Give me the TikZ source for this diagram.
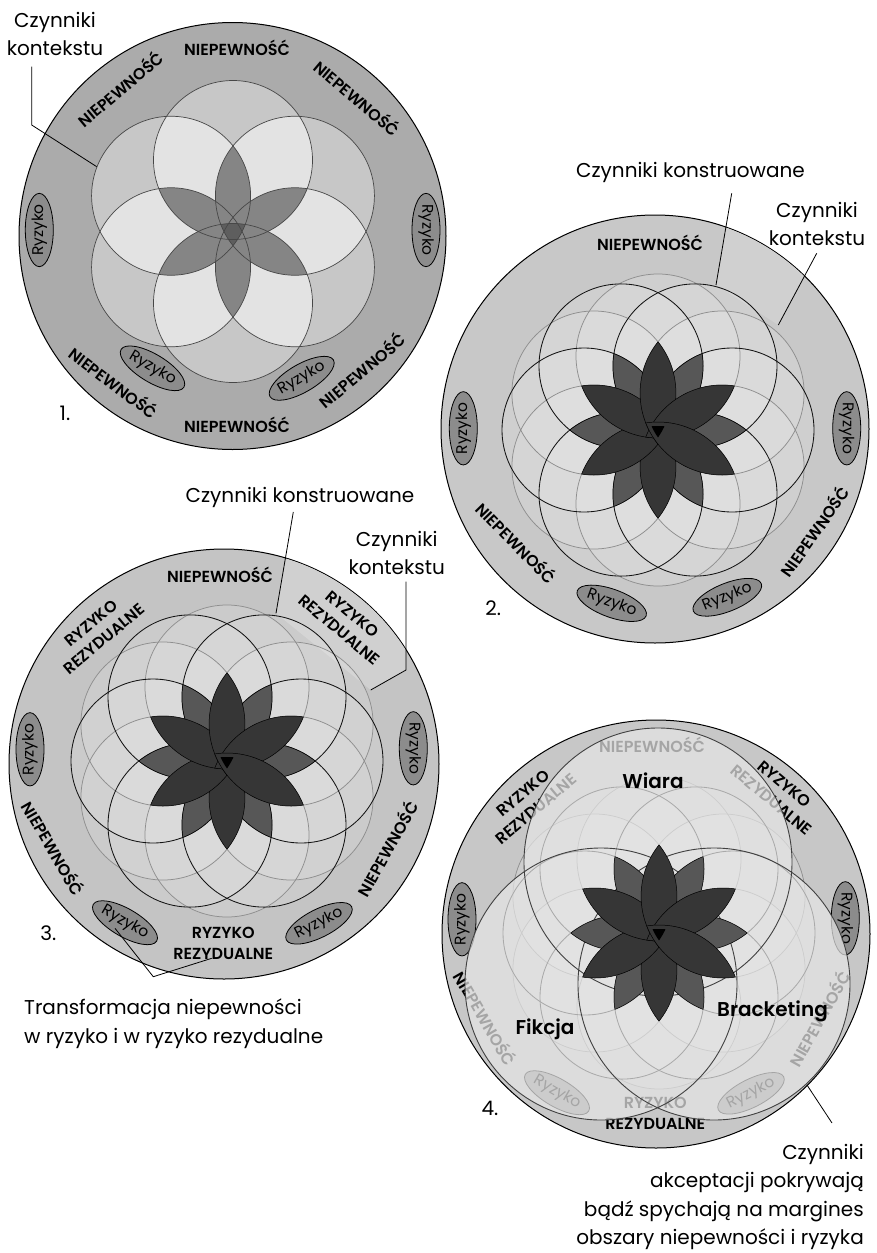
\documentclass[tikz,border=0pt]{standalone}
\usepackage{fontspec}
\setmainfont{Poppins}
\newfontfamily\semib{Poppins SemiBold}
\usetikzlibrary{calc,shapes.geometric}
\definecolor{ringA}{gray}{0.67}
\definecolor{oneA}{gray}{0.78}
\definecolor{twoA}{gray}{0.89}
\definecolor{petA}{gray}{0.52}
\definecolor{cenA}{gray}{0.37}
\definecolor{lineA}{gray}{0.28}
\definecolor{ringB}{gray}{0.785}
\definecolor{bandB}{gray}{0.815}
\definecolor{ringC}{gray}{0.77}
\definecolor{bandC}{gray}{0.815}
\definecolor{ringD}{gray}{0.78}
\definecolor{ellB}{gray}{0.55}
\definecolor{petM}{gray}{0.34}
\definecolor{petD}{gray}{0.21}
\definecolor{gLine}{gray}{0.56}
\definecolor{bLine}{gray}{0.08}
\definecolor{ovlColor}{gray}{0.9}
\definecolor{bigLine}{gray}{0.25}

\newcommand\sixflower[2]{%
  \foreach \k in {0,...,5}{%
    \coordinate (#1b\k) at ($(#2)+({60*\k}:74)$);
    \coordinate (#1g\k) at ($(#2)+({30+60*\k}:74)$);
  }}
\newcommand\flowerbase[2]{%
  \foreach \k in {0,...,5}{%
    \fill[white,opacity=#2] (#1b\k) circle[radius=82pt];
    \fill[white,opacity=#2] (#1g\k) circle[radius=82pt];}
  \foreach \k in {0,...,5}{\draw[gline] (#1g\k) circle[radius=82pt];}
  \foreach \k in {0,...,5}{\draw[bline] (#1b\k) circle[radius=82pt];}}
\newcommand\lens[4]{%
  \begin{scope}\clip (#1) circle[radius=#4]; \fill[#3] (#2) circle[radius=#4];\end{scope}
  \begin{scope}\clip (#1) circle[radius=#4]; \draw[pline] (#2) circle[radius=#4];\end{scope}
  \begin{scope}\clip (#2) circle[radius=#4]; \draw[pline] (#1) circle[radius=#4];\end{scope}}
\newcommand\petals[1]{%
  \foreach \i/\j in {0/2,1/3,2/4,3/5,4/0,5/1}{\lens{#1b\i}{#1b\j}{petM}{82pt}}
  \foreach \i/\j in {0/2,1/3,2/4,3/5,4/0,5/1}{\lens{#1g\i}{#1g\j}{petD}{82pt}}
  \begin{scope}\clip (#1g1) circle[radius=78pt]; \clip (#1g3) circle[radius=78pt];
    \fill[black] (#1g5) circle[radius=78pt];\end{scope}}
\newcommand\ringlabels[1]{%
  \node[caps] (#1n1) at (220,575) {NIEPEWNOŚĆ};
  \node[caps, rotate=40] (#1rr1) at (97.5,631) {RYZYKO\\REZYDUALNE};
  \node[caps, rotate=-40] (#1rr2) at (346,622) {RYZYKO\\REZYDUALNE};
  \node[ryz, rotate=90] (#1r1) at (30,749.3) {Ryzyko};
  \node[ryz, rotate=-90] (#1r2) at (413.3,748.3) {Ryzyko};
  \node[caps, rotate=-60] (#1n2) at (54,848) {NIEPEWNOŚĆ};
  \node[caps, rotate=61] (#1n3) at (386.7,848.3) {NIEPEWNOŚĆ};
  \node[ryz, rotate=-30] (#1r3) at (125,922.7) {Ryzyko};
  \node[ryz, rotate=27] (#1r4) at (319,923.3) {Ryzyko};
  \node[caps] (#1rr3) at (223.3,943.3) {RYZYKO\\REZYDUALNE};}

\begin{document}
\begin{tikzpicture}[x=1pt,y=-1pt,
  lbl/.style={font=\fontsize{20}{28.3}\selectfont, align=center, inner sep=0pt},
  caps/.style={font=\semib\fontsize{16}{20.5}\selectfont, align=center, inner sep=0pt},
  bold/.style={font=\semib\fontsize{20}{24}\selectfont, inner sep=0pt},
  ryz/.style={ellipse, draw=black, line width=0.8pt, fill=ellB, inner sep=0pt,
    minimum height=28pt, font=\fontsize{15.5}{17}\selectfont},
  lead/.style={draw=black, line width=0.8pt},
  outer/.style={draw=black, line width=1pt},
  gline/.style={draw=gLine, line width=0.75pt},
  bline/.style={draw=bLine, line width=0.85pt},
  pline/.style={draw=black, line width=0.5pt},
  aline/.style={draw=lineA, line width=0.7pt},
  bigline/.style={draw=bigLine, line width=0.9pt}]
\useasboundingbox (0,0) rectangle (877,1253);
\fill[white] (0,0) rectangle (877,1253);

\coordinate (O1) at (232.5,236);
\coordinate (F1) at (233,231.5);
\coordinate (O2) at (655,429);
\coordinate (F2) at (658,430);
\coordinate (O3) at (224,764);
\coordinate (F3) at (227,761);
\coordinate (O4) at (656,934);
\coordinate (F4) at (659,933);

%%%%%%%%%%%%%%%% Diagram 1
\filldraw[fill=ringA, outer] (O1) circle[radius=213.5pt];
\foreach \k in {0,...,5}{\coordinate (a\k) at ($(F1)+({30+60*\k}:71.5)$);}
\foreach \k in {0,...,5}{\fill[oneA] (a\k) circle[radius=79.5pt];}
\foreach \i/\j in {0/1,1/2,2/3,3/4,4/5,5/0}{%
  \begin{scope}\clip (a\i) circle[radius=79.5pt]; \fill[twoA] (a\j) circle[radius=79.5pt];\end{scope}}
\foreach \i/\j in {0/2,1/3,2/4,3/5,4/0,5/1}{%
  \begin{scope}\clip (a\i) circle[radius=79.5pt]; \fill[petA] (a\j) circle[radius=79.5pt];\end{scope}}
\begin{scope}\clip (a1) circle[radius=79.5pt]; \clip (a3) circle[radius=79.5pt];
  \fill[cenA] (a5) circle[radius=79.5pt];\end{scope}
\foreach \k in {0,...,5}{\draw[aline] (a\k) circle[radius=79.5pt];}

\node[lbl] (t1) at (55,34) {Czynniki\\kontekstu};
\node[caps] (n1a) at (237,48) {NIEPEWNOŚĆ};
\node[caps, rotate=40] (n1b) at (120,88.5) {NIEPEWNOŚĆ};
\node[caps, rotate=-40] (n1c) at (357.5,97.5) {NIEPEWNOŚĆ};
\node[caps, rotate=-37] (n1d) at (114,382) {NIEPEWNOŚĆ};
\node[caps, rotate=40] (n1e) at (361.5,370) {NIEPEWNOŚĆ};
\node[caps] (n1f) at (237,425) {NIEPEWNOŚĆ};
\node[ryz, rotate=90] (r1a) at (39.3,230) {Ryzyko};
\node[ryz, rotate=-90] (r1b) at (426,230) {Ryzyko};
\node[ryz, rotate=-31] (r1c) at (152.5,368.3) {Ryzyko};
\node[ryz, rotate=30] (r1d) at (301.7,378.3) {Ryzyko};
\node[lbl] (num1) at (65,413) {1.};
\coordinate (l1a) at (31.7,66.7);
\coordinate (l1b) at (31.7,125);
\coordinate (l1c) at (96.7,166.7);
\draw[lead] (l1a) -- (l1b) -- (l1c);

%%%%%%%%%%%%%%%% Diagram 2
\filldraw[fill=ringB, outer] (O2) circle[radius=214pt];
\begin{scope}\clip (O2) circle[radius=213.5pt];
  \fill[bandB] (716,285) -- (733.5,183) -- (830,228.5) -- (778.3,325) -- cycle;\end{scope}
\sixflower{B}{F2}
\flowerbase{B}{0.13}
\petals{B}
\node[lbl] (k2) at (690.5,172) {Czynniki konstruowane};
\node[lbl] (c2) at (817,224) {Czynniki\\kontekstu};
\node[caps] (n2a) at (650,243.3) {NIEPEWNOŚĆ};
\node[ryz, rotate=90] (r2a) at (463.3,428.3) {Ryzyko};
\node[ryz, rotate=-90] (r2b) at (846.7,428.3) {Ryzyko};
\node[caps, rotate=-45.6] (n2b) at (516.7,542.5) {NIEPEWNOŚĆ};
\node[caps, rotate=55] (n2c) at (814,531) {NIEPEWNOŚĆ};
\node[ryz, rotate=-20] (r2c) at (611.7,603.3) {Ryzyko};
\node[ryz, rotate=22] (r2d) at (727.3,597.3) {Ryzyko};
\node[lbl] (num2) at (493.3,608) {2.};
\coordinate (l2a) at (731.7,193.3);
\coordinate (l2b) at (716,285);
\coordinate (l2c) at (816.7,253.3);
\coordinate (l2d) at (778.3,325);
\draw[lead] (l2a) -- (l2b);
\draw[lead] (l2c) -- (l2d);

%%%%%%%%%%%%%%%% Diagram 3
\filldraw[fill=ringC, outer] (O3) circle[radius=215pt];
\begin{scope}\clip (O3) circle[radius=214.5pt];
  \fill[bandC] (276,613.3) -- (293.3,512) -- (406,555) -- (406,670) -- (370.7,690) -- cycle;\end{scope}
\ringlabels{C}
\sixflower{C}{F3}
\flowerbase{C}{0.12}
\petals{C}
\node[lbl] (k3) at (300,497) {Czynniki konstruowane};
\node[lbl] (c3) at (396.7,553) {Czynniki\\kontekstu};
\node[lbl] (num3) at (48.3,933.3) {3.};
\node[lbl, align=left, anchor=north west] (tr) at (24,999) {Transformacja niepewności\\w ryzyko i w ryzyko rezydualne};
\coordinate (l3a) at (293.3,512);
\coordinate (l3b) at (276,613.3);
\coordinate (l3c) at (406,581.7);
\coordinate (l3d) at (406,670);
\coordinate (l3e) at (370.7,690);
\coordinate (v3a) at (115,928.3);
\coordinate (v3b) at (153.3,976.7);
\coordinate (v3c) at (211.7,958.3);
\draw[lead] (l3a) -- (l3b);
\draw[lead] (l3c) -- (l3d) -- (l3e);
\draw[lead] (v3a) -- (v3b) -- (v3c);

%%%%%%%%%%%%%%%% Diagram 4
\fill[ringD] (O4) circle[radius=214pt];
\begin{scope}[shift={(432,170)}]
  \ringlabels{D}
\end{scope}
\sixflower{D}{F4}
\flowerbase{D}{0.12}
\coordinate (W) at (658,862);
\coordinate (L) at (601,984);
\coordinate (R) at (714,984);
\fill[ovlColor, opacity=0.72] (W) circle[radius=134pt] (L) circle[radius=136pt] (R) circle[radius=136pt];
\draw[bigline] (W) circle[radius=134pt];
\draw[bigline] (L) circle[radius=136pt];
\draw[bigline] (R) circle[radius=136pt];
\petals{D}
\draw[outer] (O4) circle[radius=214pt];
\node[bold] (wi) at (653,781) {Wiara};
\node[bold] (fi) at (545,1029) {Fikcja};
\node[bold] (br) at (772.5,1011) {Bracketing};
\node[lbl] (num4) at (490,1108) {4.};
\node[lbl, align=right, anchor=north east] (acc) at (864,1144) {Czynniki\\akceptacji pokrywają\\bądź spychają na margines\\obszary niepewności i ryzyka};
\coordinate (l4a) at (807,1085);
\coordinate (l4b) at (832,1123);
\draw[lead] (l4a) -- (l4b);
\end{tikzpicture}
\end{document}
